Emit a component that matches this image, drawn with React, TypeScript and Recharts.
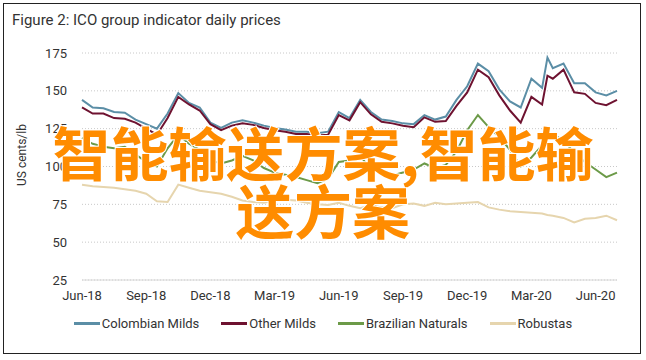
import React from "react";
import { LineChart, Line, XAxis, YAxis, CartesianGrid } from "recharts";

// months since Jun-2018 (semi-monthly readings)
const months = [
  0, 0.5, 1, 1.5, 2, 2.5, 3, 3.5, 4, 4.5, 5, 5.5, 6, 6.5, 7, 7.5, 8, 8.5, 9, 9.5,
  10, 10.5, 11, 11.5, 12, 12.5, 13, 13.5, 14, 14.5, 15, 15.5, 16, 16.5, 17, 17.5,
  18, 18.5, 19, 19.5, 20, 20.5, 21, 21.5, 21.75, 22, 22.5, 23, 23.5, 24, 24.5, 25,
];

const colombianMilds = [
  144, 139, 138.5, 136, 135.5, 131, 128, 125, 135, 148.5, 142, 139, 129, 125.5, 129, 130.5, 129, 127, 125.5, 124.5,
  123, 123, 122, 123, 136, 132, 144, 136, 131, 130, 128.5, 128, 134, 131, 133, 144,
  153, 168, 163, 151, 143, 139, 158, 152, 172, 165, 168, 155, 155, 149, 147, 150,
];

const otherMilds = [
  139, 135, 135, 132, 131.5, 129, 125, 121, 132, 146, 141, 137, 128, 124, 127, 128.5, 127.5, 125.5, 124, 123,
  121.5, 121.5, 120.5, 121, 134, 130.5, 142.5, 134.5, 129.5, 128.5, 127, 126, 132.5, 129.5, 130, 140,
  149, 164, 159, 147, 137, 129, 146, 141, 160, 158, 164, 149, 148, 142, 140.5, 144,
];

const brazilianNaturals = [
  119, 115, 113, 112, 113, 108, 103, 100, 112, 121, 115, 111, 104, 102, 104, 107, 104, 99, 96, 94.5,
  93, 91, 89, 92, 103, 104, 107, 98, 95, 94, 96, 98, 102, 99, 101, 110,
  124, 134, 126, 119.5, 111, 100, 106, 114, 122, 121, 117.5, 109, 103, 98, 93, 96,
];

const robustas = [
  88, 87, 86.5, 86, 85, 84, 82, 77, 76.5, 88, 86, 84, 83, 82, 80, 77.5, 76.5, 76, 77.5, 78,
  77.5, 76, 75, 74.5, 76, 74, 72.5, 74.5, 73, 72.5, 75, 75.5, 74, 76, 75, 75.5,
  76, 76.5, 73, 71.5, 70.5, 70, 69.5, 69, 68, 67.5, 66, 63, 65.5, 66, 67.5, 64.5,
];

const tickMonths = [0, 3, 6, 9, 12, 15, 18, 21, 24];
const tickLabels = ["Jun-18", "Sep-18", "Dec-18", "Mar-19", "Jun-19", "Sep-19", "Dec-19", "Mar-20", "Jun-20"];
const yTicks = [25, 50, 75, 100, 125, 150, 175];

const seriesNames = ["Colombian Milds", "Other Milds", "Brazilian Naturals", "Robustas"];
const seriesColors = ["#5b8ea6", "#6e1230", "#6c9a48", "#e6d5ae"];

const data = months.map((m, i) => ({
  m,
  colombian: colombianMilds[i],
  other: otherMilds[i],
  brazilian: brazilianNaturals[i],
  robustas: robustas[i],
}));

const font = "'Liberation Sans Narrow', Roboto, sans-serif";

export default function App() {
  return (
    <div style={{ position: "relative", width: 646, height: 360, background: "#fff", fontFamily: font }}>
      <style>{`body{margin:0}`}</style>
      <div
        style={{
          position: "absolute",
          left: 3,
          top: 3,
          width: 636,
          height: 349,
          border: "1.5px solid #222",
        }}
      />
      <div style={{ position: "absolute", left: 12, top: 11, fontSize: 15, color: "#333" }}>
        Figure 2: ICO group indicator daily prices
      </div>
      <div
        style={{
          position: "absolute",
          left: 22,
          top: 155,
          fontSize: 12,
          color: "#333",
          transform: "translate(-50%, -50%) rotate(-90deg)",
          whiteSpace: "nowrap",
        }}
      >
        US cents/lb
      </div>
      <LineChart width={646} height={360} data={data} margin={{ top: 53, right: 29, bottom: 50, left: 22 }}>
        <CartesianGrid vertical={false} stroke="#c8c8c8" strokeDasharray="1 2" />
        <XAxis
          dataKey="m"
          type="number"
          domain={[0, 25]}
          ticks={tickMonths}
          tickFormatter={(v: number) => tickLabels[tickMonths.indexOf(v)]}
          tickLine={false}
          tickSize={0}
          tickMargin={11}
          axisLine={{ stroke: "#d8d8d8" }}
          height={30}
          tick={{ fill: "#333", fontSize: 13, fontFamily: font }}
        />
        <YAxis
          domain={[25, 175]}
          ticks={yTicks}
          tickLine={false}
          axisLine={false}
          tickSize={0}
          tickMargin={15}
          width={60}
          tick={{ fill: "#333", fontSize: 13, fontFamily: font }}
        />
        <Line dataKey="robustas" stroke={seriesColors[3]} strokeWidth={2} dot={false} isAnimationActive={false} />
        <Line dataKey="brazilian" stroke={seriesColors[2]} strokeWidth={2} dot={false} isAnimationActive={false} />
        <Line dataKey="colombian" stroke={seriesColors[0]} strokeWidth={2} dot={false} isAnimationActive={false} />
        <Line dataKey="other" stroke={seriesColors[1]} strokeWidth={2} dot={false} isAnimationActive={false} />
      </LineChart>
      <div
        style={{
          position: "absolute",
          top: 316,
          left: 0,
          width: 646,
          display: "flex",
          justifyContent: "center",
          gap: 22,
          fontSize: 13,
          color: "#333",
        }}
      >
        {seriesNames.map((n, i) => (
          <div key={n} style={{ display: "flex", alignItems: "center" }}>
            <div style={{ width: 26, height: 2.5, background: seriesColors[i], marginRight: 2 }} />
            {n}
          </div>
        ))}
      </div>
      <div
        style={{
          position: "absolute",
          left: 28,
          top: 122,
          width: 590,
          textAlign: "center",
          fontSize: 58,
          lineHeight: "58px",
          fontWeight: 700,
          fontFamily: "'Noto Sans CJK SC', sans-serif",
          color: "#ff8c00",
          WebkitTextStroke: "2px #fff",
          paintOrder: "stroke fill",
          pointerEvents: "none",
        }}
      >
        智能输送方案,智能输送方案
      </div>
    </div>
  );
}
